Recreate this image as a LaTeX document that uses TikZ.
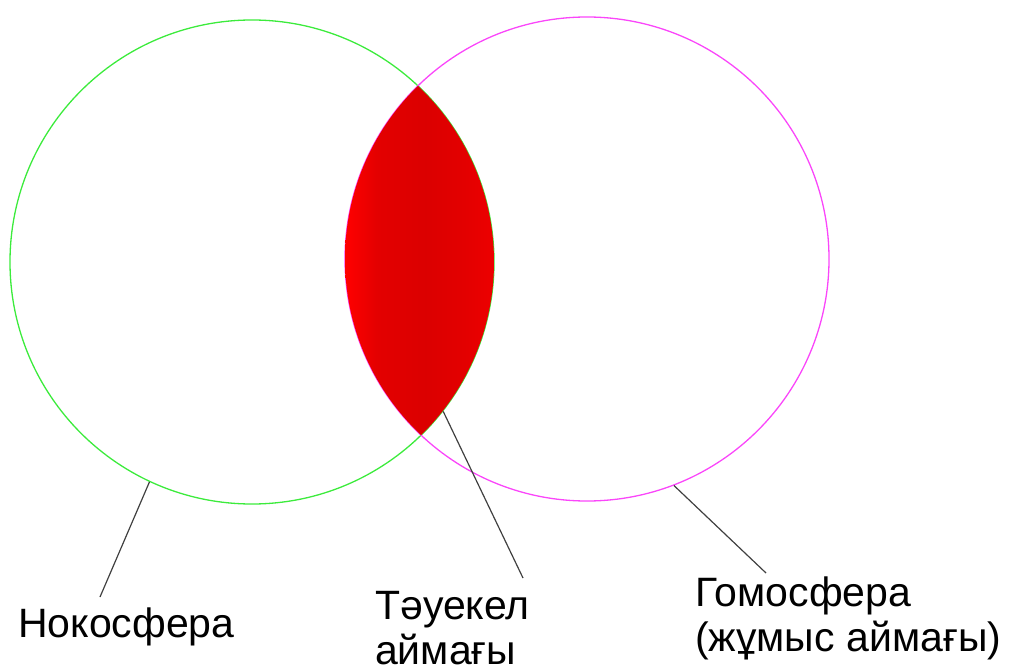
\documentclass[tikz,border=0pt]{standalone}
\usepackage{fontspec}
\setmainfont{Liberation Sans}
\usepackage{tikz}
\usetikzlibrary{positioning,calc}
\definecolor{nokogreen}{RGB}{60,235,60}
\definecolor{homomag}{RGB}{250,70,250}
\definecolor{leadgray}{RGB}{64,64,64}
\pgfdeclarehorizontalshading{riskshade}{100bp}{color(0bp)=(red); color(25bp)=(red); color(36bp)=(red!89!black); color(52bp)=(red!86!black); color(65bp)=(red!89!black); color(75bp)=(red!93!black); color(100bp)=(red!93!black)}

\begin{document}
\begin{tikzpicture}[
  x=1bp, y=-1bp,
  sphere/.style={circle, draw, line width=1.3bp, minimum size=484bp, inner sep=0pt},
  label/.style={inner sep=0pt, align=left, font=\fontsize{41bp}{45bp}\selectfont},
  leader/.style={leadgray, line width=1.2bp}
]
\useasboundingbox (0,0) rectangle (1009,671);

\node[sphere, draw=nokogreen] (noko) at (252,262) {};
\node[sphere, draw=homomag] (homo) at (587,259) {};

% risk zone
\begin{scope}
  \clip (noko.center) circle[radius=242bp];
  \clip (homo.center) circle[radius=242bp];
  \shade[shading=riskshade] (345,70) rectangle (494,450);
\end{scope}

\node[label, anchor=base west] (nokolbl) at (18,637) {Нокосфера};
\node[label, anchor=north west] (risklbl) at (375,591) {Тәуекел\\аймағы};
\node[label, anchor=north west] (homolbl) at (695,577) {Гомосфера\\(жұмыс аймағы)};

\coordinate (nokoend) at (100,597);
\coordinate (riskend) at (523,578);
\coordinate (homoend) at (766,573);

\draw[leader] (noko.245.6) -- (nokoend);
\draw[leader] (noko.322) -- (riskend);
\draw[leader] (homo.291.7) -- (homoend);
\end{tikzpicture}
\end{document}
